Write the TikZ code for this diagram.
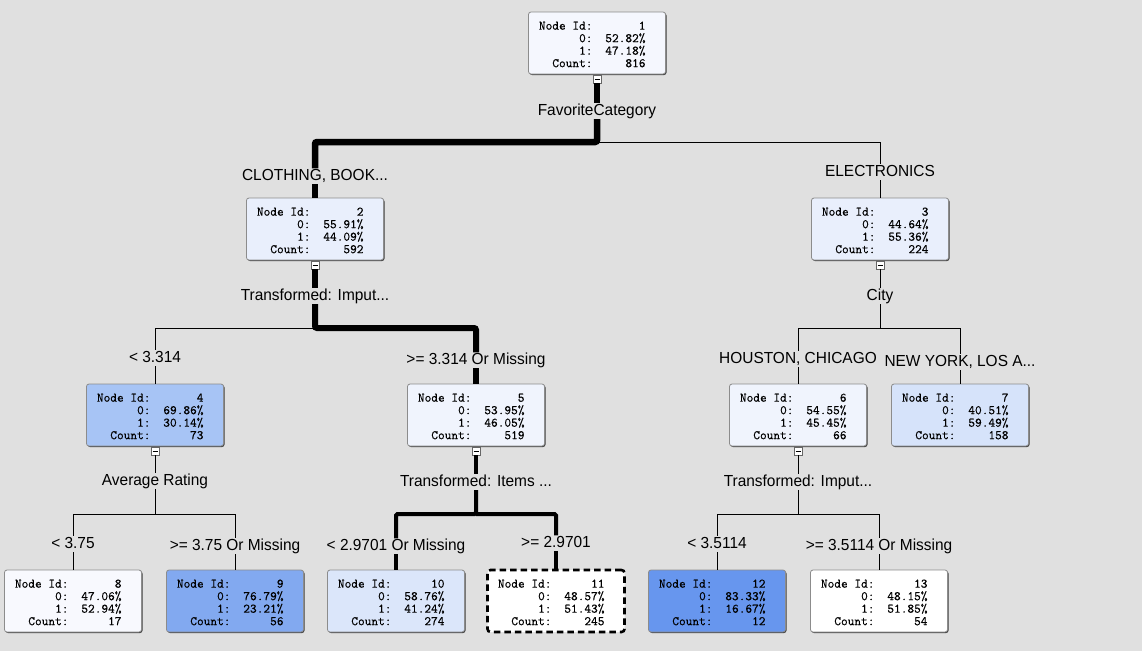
\documentclass[tikz,border=0pt]{standalone}
\usepackage{fontspec}
\setmainfont{Liberation Sans}[FakeStretch=0.965]
\newfontfamily\statmono{Latin Modern Mono}[FakeBold=0.35]
\usetikzlibrary{shadows}

\definecolor{canvasgray}{HTML}{E0E0E0}
\definecolor{boxedge}{HTML}{8C8C8C}
\definecolor{fillA}{HTML}{F5F7FE}
\definecolor{fillB}{HTML}{E9EFFC}
\definecolor{fillC}{HTML}{A7C4F5}
\definecolor{fillD}{HTML}{F0F4FD}
\definecolor{fillE}{HTML}{D6E3FA}
\definecolor{fillF}{HTML}{F8F9FE}
\definecolor{fillG}{HTML}{82A9F0}
\definecolor{fillH}{HTML}{DBE6FA}
\definecolor{fillI}{HTML}{6796EE}

% fonts for the statistics boxes and the split labels
\newcommand{\statfont}{\fontsize{13pt}{12.5pt}\statmono}
\newcommand{\labfont}{\fontsize{16pt}{18pt}\selectfont}

% one row of a statistics box: right-aligned caption and value,
% followed by the right margin of the box
\newcommand{\statrow}[2]{\makebox[54pt][r]{#1}\makebox[63pt][l]{\makebox[53pt][r]{#2}}}
\newcommand{\stats}[4]{\rule{0pt}{11pt}\statrow{Node Id:}{#1}\\\statrow{0:}{#2\%}\\\statrow{1:}{#3\%}\\\statrow{Count:}{#4}}

\tikzset{
  treebox/.style={draw=boxedge, line width=0.8pt, rounded corners=2.5pt,
    minimum width=137pt, minimum height=62pt, inner sep=0pt, align=center,
    font=\statfont,
    drop shadow={shadow xshift=1pt, shadow yshift=-1pt, opacity=1, fill=black!75}},
  selectedbox/.style={draw=black, line width=2.6pt, dash pattern=on 6.5pt off 4pt,
    rounded corners=3pt, minimum width=137pt, minimum height=62pt, inner sep=0pt,
    align=center, font=\statfont, fill=white},
  collapser/.style={draw=gray!80!black, fill=white, line width=0.8pt,
    minimum size=8pt, inner sep=0pt,
    path picture={\draw[black, line width=1pt]
      ([xshift=-2.5pt]path picture bounding box.center) --
      ([xshift=2.5pt]path picture bounding box.center);}},
  splitlabel/.style={inner sep=0pt, text height=11.5pt, text depth=4pt,
    anchor=base, font=\labfont},
  link/.style={draw=black, line width=1pt},
  heavylink/.style={draw=black, line width=6.5pt, rounded corners=2pt},
  midlink/.style={draw=black, line width=6pt, rounded corners=2pt},
  lightlink/.style={draw=black, line width=4pt, rounded corners=1.5pt},
}

\begin{document}
\begin{tikzpicture}[x=1pt, y=-1pt]
  \useasboundingbox (0,0) rectangle (1142,651);
  \fill[canvasgray] (0,0) rectangle (1142,651);

  % statistics boxes
  \node[treebox, fill=fillA] (n1) at (597,43) {\stats{1}{52.82}{47.18}{816}};
  \node[treebox, fill=fillB] (n2) at (315,229) {\stats{2}{55.91}{44.09}{592}};
  \node[treebox, fill=fillB] (n3) at (880,229) {\stats{3}{44.64}{55.36}{224}};
  \node[treebox, fill=fillC] (n4) at (155,415) {\stats{4}{69.86}{30.14}{73}};
  \node[treebox, fill=fillD] (n5) at (476,415) {\stats{5}{53.95}{46.05}{519}};
  \node[treebox, fill=fillD] (n6) at (798,415) {\stats{6}{54.55}{45.45}{66}};
  \node[treebox, fill=fillE] (n7) at (960,415) {\stats{7}{40.51}{59.49}{158}};
  \node[treebox, fill=fillF] (n8) at (73,601) {\stats{8}{47.06}{52.94}{17}};
  \node[treebox, fill=fillG] (n9) at (235,601) {\stats{9}{76.79}{23.21}{56}};
  \node[treebox, fill=fillH] (n10) at (396,601) {\stats{10}{58.76}{41.24}{274}};
  \node[selectedbox] (n11) at (556,601) {\stats{11}{48.57}{51.43}{245}};
  \node[treebox, fill=fillI] (n12) at (717,601) {\stats{12}{83.33}{16.67}{12}};
  \node[treebox, fill=white] (n13) at (879,601) {\stats{13}{48.15}{51.85}{54}};

  % collapse toggles under the inner boxes
  \node[collapser] (m1) at (597,79) {};
  \node[collapser] (m2) at (315,265) {};
  \node[collapser] (m3) at (880,265) {};
  \node[collapser] (m4) at (155,451) {};
  \node[collapser] (m5) at (476,451) {};
  \node[collapser] (m6) at (798,451) {};

  % splitting variables
  \node[splitlabel] (v1) at (597,115) {FavoriteCategory};
  \node[splitlabel] (v2) at (315,300) {Transformed: Imput...};
  \node[splitlabel] (v3) at (880,300) {City};
  \node[splitlabel] (v4) at (155,485) {Average Rating};
  \node[splitlabel] (v5) at (476,486) {Transformed: Items ...};
  \node[splitlabel] (v6) at (798,486) {Transformed: Imput...};

  % branch conditions
  \node[splitlabel] (b2) at (315,180) {CLOTHING, BOOK...};
  \node[splitlabel] (b3) at (880,176) {ELECTRONICS};
  \node[splitlabel] (b4) at (155,362) {< 3.314};
  \node[splitlabel] (b5) at (476,364) {>= 3.314 Or Missing};
  \node[splitlabel] (b6) at (798,363) {HOUSTON, CHICAGO};
  \node[splitlabel] (b7) at (960,366) {NEW YORK, LOS A...};
  \node[splitlabel] (b8) at (73,548) {< 3.75};
  \node[splitlabel] (b9) at (235,550) {>= 3.75 Or Missing};
  \node[splitlabel] (b10) at (396,550) {< 2.9701 Or Missing};
  \node[splitlabel] (b11) at (556,547) {>= 2.9701};
  \node[splitlabel] (b12) at (717,548) {< 3.5114};
  \node[splitlabel] (b13) at (879,550) {>= 3.5114 Or Missing};

  % split points
  \coordinate (s1) at (597,142);
  \coordinate (s2) at (315,328);
  \coordinate (s3) at (880,328);
  \coordinate (s4) at (155,514);
  \coordinate (s5) at (476,514);
  \coordinate (s6) at (798,514);

  % root
  \draw[link] (s1) -| (b3.north);
  \draw[link] (b3.south) -- (n3.north);
  \draw[heavylink] (m1.south) -- (v1.north);
  \draw[heavylink] (v1.south) -- (s1) -| (b2.north);
  \draw[heavylink] (b2.south) -- (n2.north);

  % node 2
  \draw[link] (s2) -| (b4.north);
  \draw[link] (b4.south) -- (n4.north);
  \draw[midlink] (m2.south) -- (v2.north);
  \draw[midlink] (v2.south) -- (s2) -| (b5.north);
  \draw[midlink] (b5.south) -- (n5.north);

  % node 3
  \draw[link] (m3.south) -- (v3.north);
  \draw[link] (v3.south) -- (s3) -| (b6.north);
  \draw[link] (s3) -| (b7.north);
  \draw[link] (b6.south) -- (n6.north);
  \draw[link] (b7.south) -- (n7.north);

  % node 4
  \draw[link] (m4.south) -- (v4.north);
  \draw[link] (v4.south) -- (s4) -| (b8.north);
  \draw[link] (s4) -| (b9.north);
  \draw[link] (b8.south) -- (n8.north);
  \draw[link] (b9.south) -- (n9.north);

  % node 5
  \draw[lightlink] (m5.south) -- (v5.north);
  \draw[lightlink] (v5.south) -- (s5) -| (b10.north);
  \draw[lightlink] (s5) -| (b11.north);
  \draw[lightlink] (b10.south) -- (n10.north);
  \draw[lightlink] (b11.south) -- (n11.north);

  % node 6
  \draw[link] (m6.south) -- (v6.north);
  \draw[link] (v6.south) -- (s6) -| (b12.north);
  \draw[link] (s6) -| (b13.north);
  \draw[link] (b12.south) -- (n12.north);
  \draw[link] (b13.south) -- (n13.north);
\end{tikzpicture}
\end{document}
